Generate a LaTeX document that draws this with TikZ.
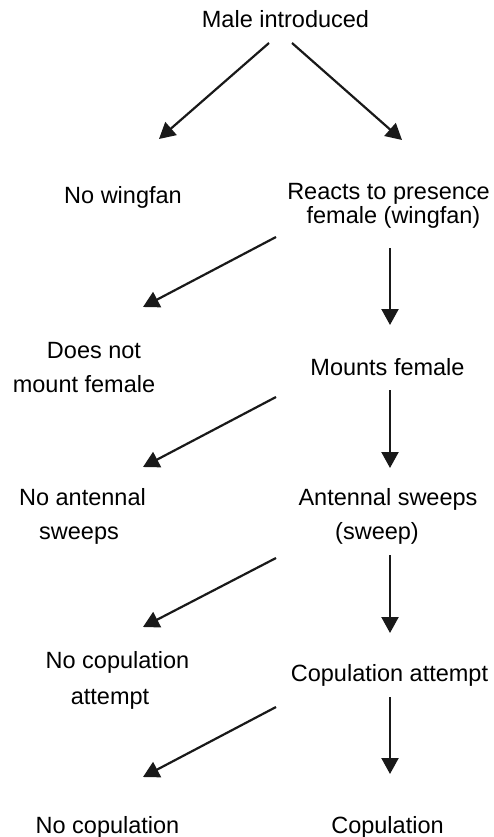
\documentclass[tikz,border=0pt]{standalone}
\usepackage{fontspec}
\setmainfont{Liberation Sans}
\usetikzlibrary{arrows.meta}
\begin{document}
\begin{tikzpicture}[x=1pt,y=-1pt,
  lbl/.style={inner sep=0pt,anchor=base,font=\fontsize{23.5}{28}\selectfont},
  arr/.style={line width=2.2pt,draw={rgb,255:red,25;green,25;blue,25},-{Triangle[length=16pt,width=17pt]}}]
\useasboundingbox (0,0) rectangle (494,837);
% labels
\node[lbl] (male) at (285.5,28) {Male introduced};
\node[lbl] (nowing) at (123,204) {No wingfan};
\node[lbl] (reactsA) at (388.5,199) {Reacts to presence};
\node[lbl] (reactsB) at (393.5,223) {female (wingfan)};
\node[lbl] (dnA) at (94,358) {Does not};
\node[lbl] (dnB) at (84,392) {mount female};
\node[lbl] (mounts) at (387.5,375) {Mounts female};
\node[lbl] (naA) at (82.5,505) {No antennal};
\node[lbl] (naB) at (79,539) {sweeps};
\node[lbl] (asA) at (388,505) {Antennal sweeps};
\node[lbl] (asB) at (377,539) {(sweep)};
\node[lbl] (ncaA) at (117.5,668) {No copulation};
\node[lbl] (ncaB) at (110,704) {attempt};
\node[lbl] (ca) at (389.5,681) {Copulation attempt};
\node[lbl] (nc) at (107.5,833) {No copulation};
\node[lbl] (cop) at (387.5,833) {Copulation};
% arrow ends
\coordinate (m1s) at (269,43);  \coordinate (m1e) at (159,139);
\coordinate (m2s) at (292,43);  \coordinate (m2e) at (402,140);
\coordinate (r1s) at (276,237); \coordinate (r1e) at (143,307);
\coordinate (r2s) at (390,248); \coordinate (r2e) at (390,325);
\coordinate (mo1s) at (276,397); \coordinate (mo1e) at (143,467);
\coordinate (mo2s) at (390,390); \coordinate (mo2e) at (390,468);
\coordinate (a1s) at (276,558); \coordinate (a1e) at (143,627);
\coordinate (a2s) at (390,555); \coordinate (a2e) at (390,633);
\coordinate (c1s) at (276,707); \coordinate (c1e) at (143,777);
\coordinate (c2s) at (390,697); \coordinate (c2e) at (390,774);
\draw[arr] (m1s) -- (m1e);
\draw[arr] (m2s) -- (m2e);
\draw[arr] (r1s) -- (r1e);
\draw[arr] (r2s) -- (r2e);
\draw[arr] (mo1s) -- (mo1e);
\draw[arr] (mo2s) -- (mo2e);
\draw[arr] (a1s) -- (a1e);
\draw[arr] (a2s) -- (a2e);
\draw[arr] (c1s) -- (c1e);
\draw[arr] (c2s) -- (c2e);
\end{tikzpicture}
\end{document}
